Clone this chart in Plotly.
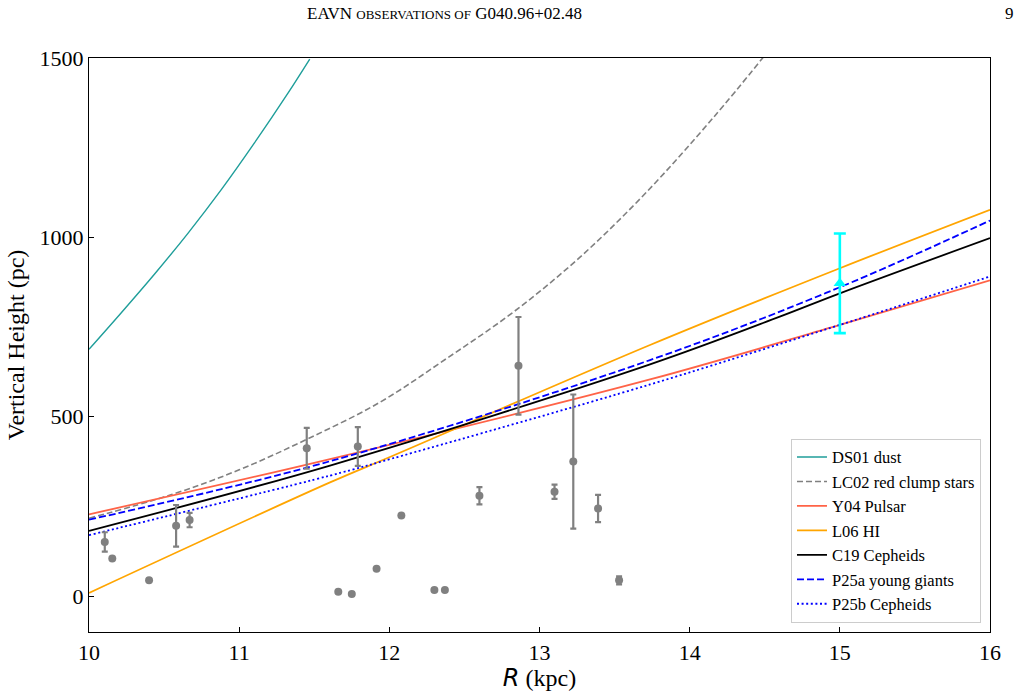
import plotly.graph_objects as go

# ---- observed data (R in kpc, z in pc) ----
R_data = [10.105, 10.155, 10.40, 10.58, 10.67, 11.45, 11.79, 11.915, 12.08, 11.66,
          11.75, 12.30, 12.37, 12.60, 12.86, 13.10, 13.225, 13.39, 13.53]
z_data = [151, 105, 44, 196, 212, 412, 417, 76, 225, 12,
          6, 17, 17, 280, 642, 291, 375, 244, 44]
z_err = [27, 0, 0, 58, 20, 57, 54, 0, 0, 0,
         0, 0, 0, 24, 136, 20, 187, 38, 11]

# ---- this work (cyan) ----
R_this = [15.0]
z_this = [872]
z_this_err = [139]

# ---- warp models (sampled from figure) ----
R_ds01 = [10.0, 10.215, 10.437, 10.66, 10.881, 11.103, 11.325, 11.47]
z_ds01 = [688, 790, 898, 1012, 1133, 1264, 1402, 1497]

R_lc02 = [10.0, 10.55, 11.0, 11.45, 11.94, 12.38, 12.83, 13.27, 13.71, 14.16, 14.49]
z_lc02 = [217, 283, 352, 437, 541, 662, 793, 945, 1125, 1335, 1502]

R_y04 = [10.0, 11.605, 13.736, 15.0, 16.0]
z_y04 = [228, 382, 604, 756, 880]

R_l06 = [10.0, 11.605, 12.027, 13.736, 15.0, 16.0]
z_l06 = [9, 317, 392, 700, 914, 1077]

R_c19 = [10.0, 11.605, 13.736, 14.6, 15.0, 16.0]
z_c19 = [182, 364, 646, 779, 844, 998]

R_p25a = [10.0, 11.605, 13.736, 15.0, 16.0]
z_p25a = [213, 376, 658, 861, 1047]

R_p25b = [10.0, 11.605, 12.09, 13.736, 15.0, 16.0]
z_p25b = [170, 336, 392, 590, 756, 891]

x_ticks = [10, 11, 12, 13, 14, 15, 16]
y_ticks = [0, 500, 1000, 1500]

SERIF = "Liberation Serif"

fig = go.Figure()

models = [
    ("DS01 dust", R_ds01, z_ds01, "#1f9e9a", "solid", 1.4),
    ("LC02 red clump stars", R_lc02, z_lc02, "gray", "6px,3px", 1.6),
    ("Y04 Pulsar", R_y04, z_y04, "tomato", "solid", 1.8),
    ("L06 HI", R_l06, z_l06, "orange", "solid", 1.8),
    ("C19 Cepheids", R_c19, z_c19, "black", "solid", 1.8),
    ("P25a young giants", R_p25a, z_p25a, "blue", "7px,3px", 1.8),
    ("P25b Cepheids", R_p25b, z_p25b, "blue", "2px,2.6px", 1.8),
]
for name, xs, ys, col, dash, w in models:
    fig.add_trace(go.Scatter(
        x=xs, y=ys, mode="lines", name=name,
        line=dict(color=col, dash=dash, width=w, shape="spline", smoothing=1.0),
    ))

fig.add_trace(go.Scatter(
    x=R_data, y=z_data, mode="markers", showlegend=False,
    marker=dict(color="gray", size=8, symbol="circle"),
    error_y=dict(type="data", array=z_err, color="gray", thickness=2.2, width=3),
))

fig.add_trace(go.Scatter(
    x=R_this, y=z_this, mode="markers", showlegend=False,
    marker=dict(color="cyan", size=11, symbol="triangle-up"),
    error_y=dict(type="data", array=z_this_err, color="cyan", thickness=2.6, width=6),
))

fig.update_layout(
    width=1020, height=697,
    margin=dict(l=89, r=30, t=58, b=65),
    paper_bgcolor="white", plot_bgcolor="white",
    font=dict(family=SERIF, color="black", size=20),
    showlegend=True,
    legend=dict(
        x=0.99, y=0.016, xanchor="right", yanchor="bottom",
        bgcolor="white", bordercolor="#cccccc", borderwidth=1,
        font=dict(family=SERIF, size=16.5, color="black"),
        tracegroupgap=0,
    ),
    annotations=[
        dict(text="EAVN <span style='font-size:13px'>OBSERVATIONS OF</span> G040.96+02.48",
             xref="paper", yref="paper", x=0.395, y=1.0767, xanchor="center", yanchor="middle",
             showarrow=False, font=dict(family=SERIF, size=17, color="black")),
        dict(text="9", xref="paper", yref="paper", x=1.022, y=1.0767,
             xanchor="center", yanchor="middle", showarrow=False,
             font=dict(family=SERIF, size=17, color="black")),
    ],
)

fig.update_xaxes(
    range=[10, 16], tickvals=x_ticks, ticktext=[str(v) for v in x_ticks],
    ticks="inside", ticklen=5, tickwidth=1, tickcolor="black",
    showline=True, linecolor="black", linewidth=1.2, mirror=True,
    showgrid=False, zeroline=False,
    tickfont=dict(family=SERIF, size=22),
    title=dict(text="<span style='font-family:DejaVu Sans'><i>R</i></span> (kpc)",
               font=dict(family=SERIF, size=24), standoff=5),
)
fig.update_yaxes(
    range=[-100, 1500], tickvals=y_ticks, ticktext=[str(v) for v in y_ticks],
    ticks="inside", ticklen=5, tickwidth=1, tickcolor="black",
    showline=True, linecolor="black", linewidth=1.2, mirror=True,
    showgrid=False, zeroline=False,
    tickfont=dict(family=SERIF, size=22),
    title=dict(text="Vertical Height (pc)", font=dict(family=SERIF, size=24), standoff=8),
)

fig.write_html("out.html")
